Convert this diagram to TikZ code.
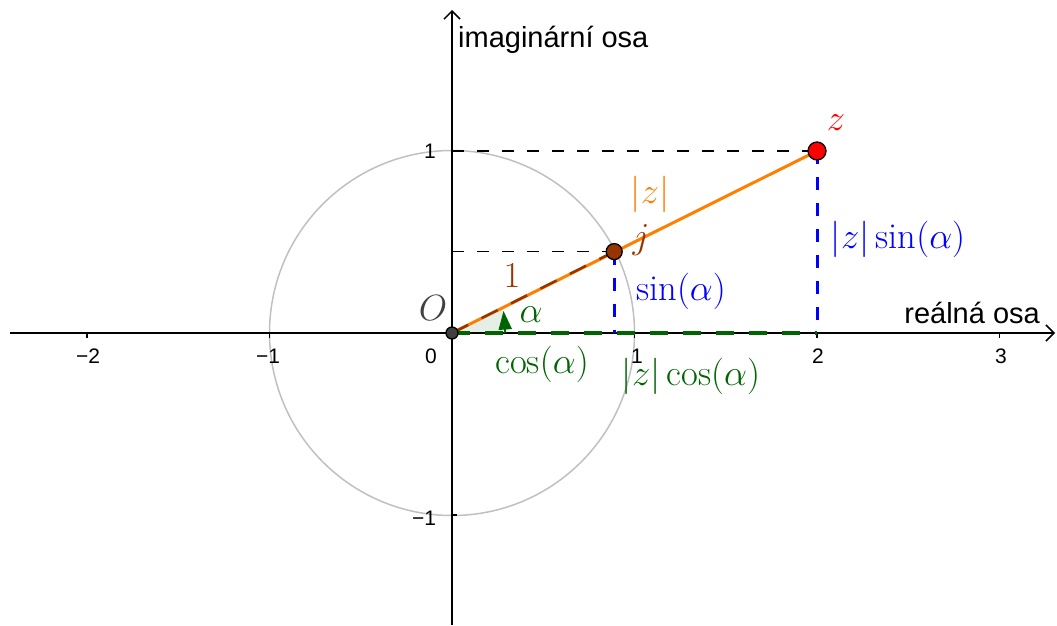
\RequirePackage{fix-cm}
\documentclass[tikz,border=0pt]{standalone}
\usepackage{fontspec}
\setsansfont{Liberation Sans}
\usetikzlibrary{arrows.meta}
\definecolor{gorange}{RGB}{255,127,0}
\definecolor{gbrown}{RGB}{153,51,0}
\definecolor{ggreen}{RGB}{0,100,0}
\definecolor{gblue}{RGB}{0,0,255}
\definecolor{gred}{RGB}{255,0,0}
\definecolor{ggray}{RGB}{192,192,192}
\definecolor{gdark}{RGB}{64,64,64}
\tikzset{
  axis/.style={line width=1.5pt,-{Straight Barb[length=8pt,width=16pt,line width=1.5pt]}},
  tick/.style={line width=1.5pt},
  ticklab/.style={font=\sffamily\fontsize{21}{24}\selectfont,inner sep=0pt,anchor=base},
  axislab/.style={font=\sffamily\fontsize{29}{34}\selectfont,inner sep=0pt},
  mlab/.style={font=\fontsize{36.5}{42}\selectfont,inner sep=0pt,anchor=base},
  blackdash/.style={line width=1.6pt,dash pattern=on 12pt off 13pt},
  bluedash/.style={gblue,line width=3pt,dash pattern=on 13pt off 13pt},
  greendash/.style={ggreen,line width=3.5pt,dash pattern=on 18pt off 15pt},
  browndash/.style={gbrown,line width=2.5pt,dash pattern=on 18pt off 15pt},
  dot/.style={circle,draw=black,line width=1.3pt,inner sep=0pt},
}
\begin{document}
\begin{tikzpicture}[x=1pt,y=-1pt]
\useasboundingbox (0,0) rectangle (1057,625);
% key coordinates
\coordinate (O) at (452,333);
\coordinate (Z) at (817,151);
\coordinate (J) at (614.2,251.6);
\coordinate (Zx) at (817,333);
\coordinate (Jx) at (614.2,333);
\coordinate (Zy) at (452,151);
\coordinate (Jy) at (452,251.6);
\coordinate (xl) at (10,333);
\coordinate (xr) at (1055,333);
\coordinate (yb) at (452,625);
\coordinate (yt) at (452,10);
% unit circle
\draw[ggray,line width=1.5pt] (O) circle[radius=182.5];
% black dashed projections
\draw[blackdash] (Zy) -- (Z);
\draw[blackdash] (Jy) -- (J);
% axes
\draw[axis] (xl) -- (xr);
\draw[axis] (yb) -- (yt);
% ticks
\foreach \x in {87,269.5,634.5,817,999.5}{\draw[tick] (\x,333) -- (\x,338);}
\foreach \y in {151,515}{\draw[tick] (452,\y) -- (457,\y);}
% tick labels
\node[ticklab] (tm2) at (88,363) {−2};
\node[ticklab] (tm1) at (268,363) {−1};
\node[ticklab] (t0) at (431,363) {0};
\node[ticklab] (t1) at (637,363) {1};
\node[ticklab] (t2) at (818,363) {2};
\node[ticklab] (t3) at (1001,363) {3};
\node[ticklab] (ty1) at (430,158) {1};
\node[ticklab] (tym1) at (424,525) {−1};
% axis labels
\node[axislab,anchor=base west] (im) at (458,47) {imaginární osa};
\node[axislab,anchor=base east] (re) at (1040,323) {reálná osa};
% angle sector
\fill[ggreen,opacity=0.1] (O) -- (508,333) arc[start angle=0,end angle=-26.565,radius=56] -- cycle;
% modulus line
\draw[gorange,line width=3pt] (O) -- (Z);
\draw[browndash] (O) -- (J);
% green dashed real part
\draw[greendash] (O) -- (Zx);
% blue dashed imaginary parts
\draw[bluedash] (Z) -- (Zx);
\draw[bluedash] (J) -- (Jx);
% angle arrow
\fill[ggreen] (498.5,330) -- (512,329) -- (503.5,311) -- cycle;
\draw[ggreen,line width=1.5pt] (505,329) -- (505,333);
% points
\node[dot,fill=gdark,minimum size=12pt] (Op) at (O) {};
\node[dot,fill=gbrown,minimum size=16pt] (Jp) at (J) {};
\node[dot,fill=gred,minimum size=18pt] (Zp) at (Z) {};
% labels
\node[mlab,text=gdark] (lO) at (433,320) {$O$};
\node[mlab,text=gred] (lz) at (836,130) {$z$};
\node[mlab,text=gorange] (labs) at (650,203) {$|z|$};
\node[mlab,text=gbrown] (lj) at (641,248) {$j$};
\node[mlab,text=gbrown] (l1) at (512,287) {$1$};
\node[mlab,text=ggreen] (la) at (531,322) {$\alpha$};
\node[mlab,text=gblue] (lsin) at (681,300) {$\sin(\alpha)$};
\node[mlab,text=gblue] (lzsin) at (898,248) {$|z|\sin(\alpha)$};
\node[mlab,text=ggreen] (lcos) at (542,373) {$\cos(\alpha)$};
\node[mlab,text=ggreen] (lzcos) at (691,385) {$|z|\cos(\alpha)$};
\end{tikzpicture}
\end{document}
